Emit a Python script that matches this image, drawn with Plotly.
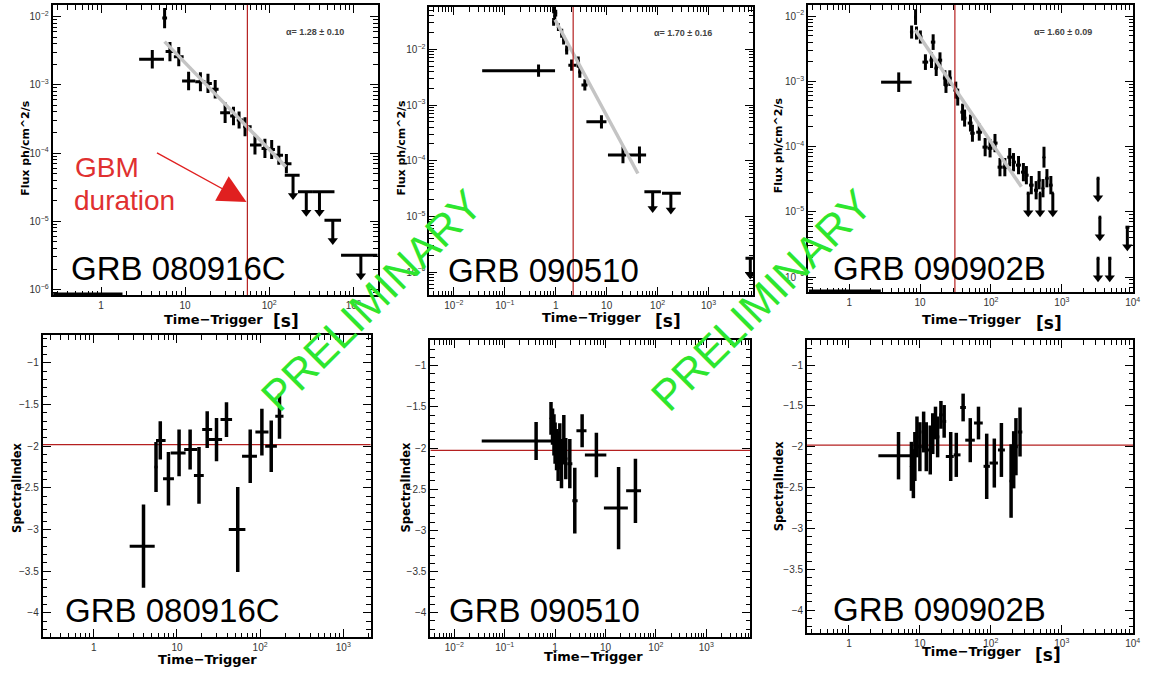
import math
import plotly.graph_objects as go

W, H = 1152, 675


def px(x):
    return x / W


def py(y):
    return 1 - y / H


# ---------------- data ----------------
GRB_NAMES = ["GRB 080916C", "GRB 090510", "GRB 090902B"]
ALPHA = [1.28, 1.70, 1.60]
ALPHA_ERR = [0.10, 0.16, 0.09]
GBM_DURATION = [55.0, 2.2, 31.0]          # s, vertical red lines (top row)
MEAN_INDEX = [-1.98, -2.03, -1.98]        # horizontal red lines (bottom row)

# flux detections: (t, t_start, t_end, flux, err in dex)
FLUX_080916C = [
    (5.7, 5.35, 6.1, 9.5e-3, 0.15), (4.07, 2.84, 5.6, 2.37e-3, 0.135),
    (6.6, 5.86, 7.35, 3.07e-3, 0.14), (8.4, 7.35, 9.6, 2.59e-3, 0.14),
    (11.0, 9.2, 13.2, 1.14e-3, 0.135), (15.2, 13.2, 17.4, 1.11e-3, 0.14),
    (18.7, 17.4, 20.8, 1.05e-3, 0.14), (22.8, 20.8, 25.0, 8.6e-4, 0.135),
    (29.9, 26.1, 34.3, 3.9e-4, 0.15), (37.6, 34.3, 41.1, 3.5e-4, 0.135),
    (43.8, 41.1, 49.3, 3.05e-4, 0.125), (51.6, 49.3, 61.8, 2.43e-4, 0.14),
    (67.7, 59.1, 81.1, 1.31e-4, 0.14), (88.9, 81.1, 102, 1.17e-4, 0.14),
    (107, 102, 117, 1.13e-4, 0.14), (130, 117, 146, 9.3e-5, 0.14),
    (160, 146, 184, 7.0e-5, 0.14),
]
# upper limits: (t, t_start, t_end, flux limit)
UL_080916C = [
    (192, 153, 230, 4.75e-5), (276, 220, 331, 2.71e-5), (396, 331, 597, 2.71e-5),
    (570, 454, 715, 1.04e-5), (1230, 715, 1950, 3.19e-6),
]
FIT_080916C = [(5.7, 4.3e-3), (158, 6.3e-5)]

FLUX_090510 = [
    (0.46, 0.036, 0.97, 4.13e-3, 0.11), (0.91, 0.88, 0.94, 0.0508, 0.06),
    (1.0, 0.97, 1.03, 0.0447, 0.06), (0.956, 0.93, 0.98, 0.0398, 0.06),
    (0.91, 0.88, 0.94, 0.031, 0.07), (1.13, 1.08, 1.18, 0.025, 0.07),
    (1.31, 1.24, 1.37, 0.0195, 0.08), (1.43, 1.37, 1.5, 0.0147, 0.08),
    (1.64, 1.55, 1.75, 9.7e-3, 0.08), (2.05, 1.77, 2.56, 5.2e-3, 0.10),
    (2.77, 2.56, 3.0, 5.9e-3, 0.10), (2.97, 2.8, 3.2, 3.9e-3, 0.10),
    (3.73, 3.2, 4.2, 2.3e-3, 0.10), (7.9, 4.0, 9.9, 5.0e-4, 0.12),
    (20.9, 10.6, 24.2, 1.27e-4, 0.15), (44, 26, 59.4, 1.27e-4, 0.15),
]
UL_090510 = [(80, 55, 116, 2.78e-5), (182, 122, 286, 2.6e-5), (6600, 5300, 8500, 1.77e-6)]
FIT_090510 = [(0.97, 0.034), (41, 5.9e-5)]

FLUX_090902B = [
    (5.0, 2.82, 7.6, 9.7e-4, 0.15), (8.64, 8.3, 9.0, 9.66e-3, 0.12),
    (7.6, 7.2, 8.0, 5.69e-3, 0.10), (8.9, 8.5, 9.3, 5.5e-3, 0.10),
    (10.1, 9.4, 10.8, 4.78e-3, 0.10), (15.3, 14.2, 16.4, 3.99e-3, 0.12),
    (11.9, 10.8, 13.0, 1.97e-3, 0.12), (14.5, 13.6, 15.4, 2.11e-3, 0.12),
    (19.1, 17.8, 20.5, 2.11e-3, 0.12), (16.9, 16.0, 17.8, 1.59e-3, 0.12),
    (22.4, 21.0, 23.8, 1.12e-3, 0.12), (26.3, 24.6, 28.0, 1.12e-3, 0.12),
    (23.2, 22.0, 24.6, 8.75e-4, 0.12), (31.9, 29.5, 34.0, 7.33e-4, 0.13),
    (34.0, 32.0, 36.0, 5.73e-4, 0.13), (39.8, 37.0, 42.5, 3.37e-4, 0.13),
    (42.5, 40.0, 45.0, 2.73e-4, 0.13), (51.4, 47.0, 55.0, 2.29e-4, 0.13),
    (54.8, 51.0, 59.0, 1.60e-4, 0.13), (68.4, 62.0, 75.0, 1.66e-4, 0.13),
    (82.8, 76.0, 90.0, 9.8e-5, 0.14), (97.2, 90.0, 105, 9.4e-5, 0.14),
    (114, 105, 124, 1.13e-4, 0.14), (134, 124, 145, 4.83e-5, 0.14),
    (157, 145, 170, 4.83e-5, 0.14), (184, 170, 198, 6.87e-5, 0.14),
    (208, 198, 225, 5.76e-5, 0.14), (245, 225, 265, 5.19e-5, 0.14),
    (287, 265, 302, 4.05e-5, 0.14), (316, 302, 340, 3.64e-5, 0.14),
    (371, 345, 400, 2.56e-5, 0.14), (434, 405, 462, 2.14e-5, 0.14),
    (478, 462, 500, 3.05e-5, 0.14), (560, 540, 580, 6.87e-5, 0.16),
    (542, 520, 560, 2.3e-5, 0.14), (616, 585, 650, 3.27e-5, 0.14),
    (700, 660, 740, 2.56e-5, 0.14),
]
UL_090902B = [
    (336, 320, 352, 1.93e-5), (493, 475, 510, 1.93e-5), (746, 720, 770, 1.93e-5),
    (3240, 3100, 3400, 3.27e-5), (3440, 3300, 3600, 8.26e-6), (8400, 7900, 9000, 5.8e-6),
    (3240, 3100, 3400, 1.94e-6), (4740, 4500, 5000, 1.94e-6),
]
FIT_090902B = [(8.55, 6.1e-3), (269, 2.41e-5)]

# zero-flux bins drawn on the lower frame: (t_start, t_end)
FLOOR_080916C = (0.27, 1.8)
FLOOR_090902B = (0.27, 2.8)

# spectral index: (t, t_start, t_end, index, error)
IDX_080916C = [
    (3.96, 2.7, 5.4, -3.2, 0.5), (5.6, 5.4, 5.8, -2.25, 0.3),
    (6.3, 5.6, 7.3, -1.93, 0.23), (7.9, 6.8, 9.2, -2.39, 0.32),
    (10.6, 8.4, 12.7, -2.08, 0.28), (14.4, 12.2, 17.5, -2.04, 0.24),
    (18.4, 16.0, 21.0, -2.35, 0.34), (23.1, 20.1, 26.5, -1.80, 0.22),
    (29.9, 24.2, 34.9, -1.92, 0.26), (39.4, 33.4, 46.0, -1.68, 0.21),
    (53.8, 42.0, 66.5, -3.0, 0.51), (76.0, 60.6, 91.6, -2.12, 0.32),
    (105, 87.7, 126, -1.83, 0.28), (136, 115, 159, -2.0, 0.31),
    (171, 152, 191, -1.64, 0.27),
]
IDX_090510 = [
    (0.42, 0.035, 0.85, -1.915, 0.23), (0.83, 0.8, 0.86, -1.64, 0.2),
    (0.89, 0.86, 0.92, -1.74, 0.22), (0.95, 0.92, 0.98, -1.84, 0.25),
    (1.0, 0.98, 1.03, -1.94, 0.25), (1.07, 1.03, 1.11, -2.02, 0.25),
    (1.15, 1.11, 1.19, -2.10, 0.3), (1.24, 1.19, 1.29, -1.98, 0.28),
    (1.34, 1.29, 1.41, -2.19, 0.3), (1.49, 1.41, 1.56, -1.90, 0.3),
    (1.63, 1.56, 1.75, -2.13, 0.25), (1.96, 1.75, 2.2, -2.19, 0.3),
    (2.46, 2.2, 2.8, -2.64, 0.4), (3.44, 2.65, 4.2, -1.79, 0.2),
    (6.6, 3.9, 10.4, -2.085, 0.27), (18.2, 9.3, 27.8, -2.73, 0.5),
    (39.3, 25.7, 50.8, -2.52, 0.39),
]
IDX_090902B = [
    (5.0, 2.6, 7.6, -2.11, 0.29), (7.6, 7.3, 7.9, -2.24, 0.3),
    (8.1, 7.9, 8.3, -2.33, 0.3), (8.5, 8.3, 8.8, -2.12, 0.3),
    (9.1, 8.8, 9.5, -1.88, 0.25), (10.0, 9.5, 10.6, -2.0, 0.3),
    (11.3, 10.6, 11.8, -1.82, 0.25), (12.3, 11.8, 13.0, -2.0, 0.3),
    (14.0, 13.0, 14.6, -2.04, 0.3), (15.2, 14.6, 15.9, -1.84, 0.25),
    (16.6, 15.9, 17.2, -1.71, 0.2), (17.8, 17.2, 18.8, -1.88, 0.25),
    (19.8, 18.8, 20.9, -1.61, 0.17), (22.0, 20.9, 23.5, -1.69, 0.2),
    (27.2, 23.2, 30.0, -2.12, 0.3), (32.6, 30.0, 37.4, -2.10, 0.27),
    (40.7, 37.0, 44.5, -1.52, 0.17), (51.3, 43.6, 59.5, -1.92, 0.27),
    (67.0, 58.0, 77.0, -1.71, 0.2), (87.5, 79.0, 97.0, -2.24, 0.4),
    (112, 96, 126, -2.2, 0.3), (141, 126, 158, -2.04, 0.33),
    (193, 185, 200, -2.42, 0.45), (210, 200, 218, -2.16, 0.35),
    (226, 218, 240, -2.0, 0.35), (258, 240, 278, -1.82, 0.3),
]

# ---------------- layout geometry (pixels) ----------------
PANELS = [
    dict(xd=(53, 380), yd=(5, 295), xr=(-0.575, 3.29), yr=(-6.08, -1.83), log_y=True),
    dict(xd=(432, 758), yd=(7, 295), xr=(-2.48, 3.88), yr=(-6.41, -1.24), log_y=True),
    dict(xd=(813, 1140), yd=(5, 292), xr=(-0.58, 4.005), yr=(-6.23, -1.83), log_y=True),
    dict(xd=(43, 373), yd=(335, 637), xr=(-0.614, 3.33), yr=(-4.29, -0.664), log_y=False),
    dict(xd=(433, 755), yd=(340, 637), xr=(-2.475, 3.876), yr=(-4.296, -0.688), log_y=False),
    dict(xd=(812, 1140), yd=(340, 633), xr=(-0.59, 4.005), yr=(-4.28, -0.694), log_y=False),
]

FONT = "Liberation Sans"
TITLE_FONT = "DejaVu Sans"
ARROW_DEX = 0.3
RED = "#b52020"
MINUS = "\u2212"


def pow_label(e):
    if e == 0:
        return "1"
    if e == 1:
        return "10"
    return "10<sup>" + (MINUS if e < 0 else "") + str(abs(e)) + "</sup>"


def log_major(r):
    exps = [e for e in range(math.ceil(r[0] - 1e-9), math.floor(r[1] + 1e-9) + 1)]
    return [10.0 ** e for e in exps], [pow_label(e) for e in exps]


def log_minor(r):
    lo, hi = r
    vals = []
    for e in range(math.floor(lo) - 1, math.ceil(hi) + 1):
        for m in range(2, 10):
            v = m * 10.0 ** e
            if lo <= math.log10(v) <= hi:
                vals.append(v)
    return vals


def lin_major(r):
    vals, txt = [], []
    k = math.ceil(r[0] * 2)
    while k / 2 <= r[1]:
        v = k / 2
        vals.append(v)
        s = ("%g" % abs(v))
        txt.append((MINUS if v < 0 else "") + s)
        k += 1
    return vals, txt


def lin_minor(r):
    lo, hi = r
    vals = []
    k = math.ceil(lo * 10)
    while k / 10 <= hi:
        if k % 5 != 0:
            vals.append(k / 10)
        k += 1
    return vals


fig = go.Figure()
layout = dict(width=W, height=H, margin=dict(l=0, r=0, t=0, b=0),
              paper_bgcolor="white", plot_bgcolor="white", showlegend=False)

common = dict(showline=True, linecolor="black", linewidth=2, mirror="allticks",
              ticks="inside", ticklen=8, tickwidth=1.3, tickcolor="black",
              showgrid=False, zeroline=False,
              tickfont=dict(family=FONT, size=10, color="#333"))


def minor_cfg(vals):
    return dict(tickmode="array", tickvals=vals, ticks="inside", ticklen=4.5,
                tickwidth=1.1, tickcolor="black", showgrid=False)


for i, p in enumerate(PANELS):
    k = i + 1
    sfx = "" if k == 1 else str(k)
    xv, xt = log_major(p["xr"])
    xa = dict(domain=[px(p["xd"][0]), px(p["xd"][1])], anchor="y" + sfx,
              type="log", range=list(p["xr"]), tickmode="array", tickvals=xv, ticktext=xt,
              minor=minor_cfg(log_minor(p["xr"])), **common)
    if p["log_y"]:
        yv, yt = log_major(p["yr"])
        ya = dict(domain=[py(p["yd"][1]), py(p["yd"][0])], anchor="x" + sfx,
                  type="log", range=list(p["yr"]), tickmode="array", tickvals=yv, ticktext=yt,
                  minor=minor_cfg(log_minor(p["yr"])), **common)
    else:
        yv, yt = lin_major(p["yr"])
        ya = dict(domain=[py(p["yd"][1]), py(p["yd"][0])], anchor="x" + sfx,
                  type="linear", range=list(p["yr"]), tickmode="array", tickvals=yv,
                  ticktext=yt, minor=minor_cfg(lin_minor(p["yr"])), **common)
    layout["xaxis" + sfx] = xa
    layout["yaxis" + sfx] = ya


def axref(k):
    sfx = "" if k == 1 else str(k)
    return "x" + sfx, "y" + sfx


def add_flux(k, rows, uls, fit, gbm, floor=None):
    xr, yr_ = axref(k)
    p = PANELS[k - 1]
    t = [r[0] for r in rows]
    f = [r[3] for r in rows]
    fig.add_trace(go.Scatter(
        x=t, y=f, mode="markers", xaxis=xr, yaxis=yr_,
        marker=dict(size=3, color="black"),
        error_x=dict(type="data", symmetric=False, array=[r[2] - r[0] for r in rows],
                     arrayminus=[r[0] - r[1] for r in rows], thickness=3, width=0, color="black"),
        error_y=dict(type="data", symmetric=False, array=[r[3] * (10 ** r[4] - 1) for r in rows],
                     arrayminus=[r[3] * (1 - 10 ** -r[4]) for r in rows], thickness=3, width=0,
                     color="black")))
    ut = [u[0] for u in uls]
    uf = [u[3] for u in uls]
    fig.add_trace(go.Scatter(
        x=ut, y=uf, mode="markers", xaxis=xr, yaxis=yr_, marker=dict(size=1, color="black"),
        error_x=dict(type="data", symmetric=False, array=[u[2] - u[0] for u in uls],
                     arrayminus=[u[0] - u[1] for u in uls], thickness=3, width=0, color="black"),
        error_y=dict(type="data", symmetric=False, array=[0] * len(uls),
                     arrayminus=[u[3] * (1 - 10 ** -ARROW_DEX) for u in uls], thickness=3,
                     width=0, color="black")))
    fig.add_trace(go.Scatter(
        x=ut, y=[v * 10 ** -ARROW_DEX for v in uf], mode="markers", xaxis=xr, yaxis=yr_,
        marker=dict(symbol="triangle-down", size=9, color="black")))
    fig.add_trace(go.Scatter(
        x=[q[0] for q in fit], y=[q[1] for q in fit], mode="lines", xaxis=xr, yaxis=yr_,
        line=dict(color="#c4c4c4", width=3.5)))
    fig.add_trace(go.Scatter(
        x=[gbm, gbm], y=[10 ** p["yr"][0], 10 ** p["yr"][1]], mode="lines",
        xaxis=xr, yaxis=yr_, line=dict(color=RED, width=1.2)))
    if floor:
        fig.add_trace(go.Scatter(
            x=list(floor), y=[10 ** p["yr"][0]] * 2, mode="lines", xaxis=xr, yaxis=yr_,
            line=dict(color="black", width=5)))


def add_index(k, rows, mean):
    xr, yr_ = axref(k)
    p = PANELS[k - 1]
    fig.add_trace(go.Scatter(
        x=[10 ** p["xr"][0], 10 ** p["xr"][1]], y=[mean, mean], mode="lines",
        xaxis=xr, yaxis=yr_, line=dict(color=RED, width=1.2)))
    fig.add_trace(go.Scatter(
        x=[r[0] for r in rows], y=[r[3] for r in rows], mode="markers", xaxis=xr, yaxis=yr_,
        marker=dict(size=3, color="black"),
        error_x=dict(type="data", symmetric=False, array=[r[2] - r[0] for r in rows],
                     arrayminus=[r[0] - r[1] for r in rows], thickness=3, width=0, color="black"),
        error_y=dict(type="data", array=[r[4] for r in rows], thickness=3.5, width=0,
                     color="black")))


add_flux(1, FLUX_080916C, UL_080916C, FIT_080916C, GBM_DURATION[0], FLOOR_080916C)
add_flux(2, FLUX_090510, UL_090510, FIT_090510, GBM_DURATION[1])
add_flux(3, FLUX_090902B, UL_090902B, FIT_090902B, GBM_DURATION[2], FLOOR_090902B)
add_index(4, IDX_080916C, MEAN_INDEX[0])
add_index(5, IDX_090510, MEAN_INDEX[1])
add_index(6, IDX_090902B, MEAN_INDEX[2])

ann = []


def text(x, y, s, size, color="black", family=FONT, angle=0, xanchor="center"):
    ann.append(dict(x=px(x), y=py(y), xref="paper", yref="paper", text=s, showarrow=False,
                    xanchor=xanchor, yanchor="middle", textangle=angle,
                    font=dict(family=family, size=size, color=color)))


# alpha labels
for (x, y), a, e in zip([(317, 32), (687, 33), (1070, 32)], ALPHA, ALPHA_ERR):
    text(x, y, f"<b>\u03b1= {a:.2f} \u00b1 {e:.2f}</b>", 9, "#444")

# GRB names
for (x, y), n in zip([(180, 268), (547, 270), (945, 268), (174, 610), (548, 610), (945, 609)],
                     GRB_NAMES + GRB_NAMES):
    text(x, y, n, 33)

# y-axis titles
for x, y in [(25, 148), (403, 148), (784, 145)]:
    text(x, y, "<b>Flux ph/cm^2/s</b>", 11, family=TITLE_FONT, angle=-90)
for x, y in [(17, 488), (408, 488), (784, 486)]:
    text(x, y, "<b>SpectralIndex</b>", 11.5, family=TITLE_FONT, angle=-90)

# x-axis titles
for x, y in [(215, 319), (595, 318), (977, 319), (209, 659), (597, 656), (977, 651)]:
    text(x, y, "<b>Time\u2212Trigger</b>", 13, family=TITLE_FONT)
for x, y in [(288, 321), (672, 321), (1055, 323), (1054, 655)]:
    text(x, y, "<b>[s]</b>", 17, family=TITLE_FONT)

# GBM duration label + arrow
text(73, 167, "GBM", 28, "#e03030", xanchor="left")
text(72, 200, "duration", 28, "#e03030", xanchor="left")
ann.append(dict(x=px(248), y=py(202), xref="paper", yref="paper", text="", showarrow=True,
                ax=-91, ay=-50, arrowhead=2, arrowsize=4, arrowwidth=1.4,
                arrowcolor="#e02020", standoff=0))

# PRELIMINARY watermarks
for x, y in [(374, 300), (766, 300)]:
    text(x, y, "PRELIMINARY", 43, "#2ee62e", angle=-45)

layout["annotations"] = ann
fig.update_layout(**layout)
fig.write_html("out.html")
